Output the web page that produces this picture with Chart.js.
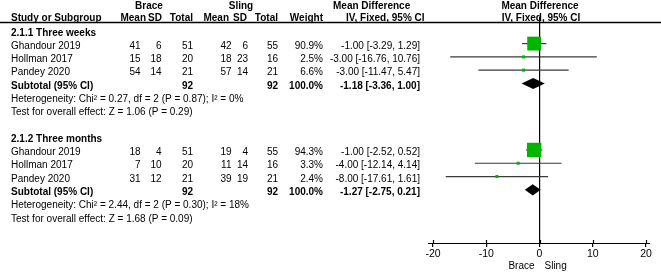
<!DOCTYPE html>
<html><head><meta charset="utf-8">
<script src="https://cdn.jsdelivr.net/npm/chart.js@4/dist/chart.umd.min.js"></script>
<style>html,body{margin:0;padding:0;background:#fff}#wrap{width:661px;height:273px;position:relative}</style>
</head><body><div id="wrap"><canvas id="c"></canvas></div>
<script>
const groups = ['2.1.1 Three weeks', '2.1.2 Three months'];
const studies = ['Ghandour 2019', 'Hollman 2017', 'Pandey 2020'];
const braceMean = [[41, 15, 54], [18, 7, 31]];
const braceSD = [[6, 18, 14], [4, 10, 12]];
const braceN = [[51, 20, 21], [51, 20, 21]];
const slingMean = [[42, 18, 57], [19, 11, 39]];
const slingSD = [[6, 23, 14], [4, 14, 19]];
const slingN = [[55, 16, 21], [55, 16, 21]];
const weights = [[90.9, 2.5, 6.6], [94.3, 3.3, 2.4]];
const md = [[-1.00, -3.00, -3.00], [-1.00, -4.00, -8.00]];
const ciLow = [[-3.29, -16.76, -11.47], [-2.52, -12.14, -17.61]];
const ciHigh = [[1.29, 10.76, 5.47], [0.52, 4.14, 1.61]];
const subBraceN = [92, 92];
const subSlingN = [92, 92];
const subMD = [-1.18, -1.27];
const subLow = [-3.36, -2.75];
const subHigh = [1.00, 0.21];
const heterogeneity = ['Heterogeneity: Chi² = 0.27, df = 2 (P = 0.87); I² = 0%', 'Heterogeneity: Chi² = 2.44, df = 2 (P = 0.30); I² = 18%'];
const overallEffect = ['Test for overall effect: Z = 1.06 (P = 0.29)', 'Test for overall effect: Z = 1.68 (P = 0.09)'];
const xTicks = [-20, -10, 0, 10, 20];
const favours = ['Brace', 'Sling'];

const FONT = '"Liberation Sans", Arial, sans-serif';
const GREEN = '#00b400';
const rowOf = (g, k) => g * 8 + k; // k: -1 heading, 0..2 studies, 3 subtotal, 4 het, 5 test

const datasets = [];
const squarePts = [];
groups.forEach((gname, g) => {
  studies.forEach((s, i) => {
    datasets.push({
      type: 'scatter', showLine: true, data: [{x: ciLow[g][i], y: rowOf(g, i)}, {x: ciHigh[g][i], y: rowOf(g, i)}],
      borderColor: '#3a3a3a', borderWidth: 1.2, pointRadius: 0, order: 2
    });
    squarePts.push({x: md[g][i], y: rowOf(g, i), w: weights[g][i]});
  });
});
datasets.push({
  type: 'scatter', data: squarePts, order: 1,
  pointStyle: 'rect', backgroundColor: GREEN, borderColor: GREEN, borderWidth: 0,
  pointRadius: ctx => { const w = ctx.raw ? ctx.raw.w : 1; const side = Math.max(3, 14.4 * w / 94.3); return side / Math.SQRT2; }
});

const tablePlugin = {
  id: 'table',
  afterDraw(chart) {
    const c = chart.ctx, xs = chart.scales.x, ys = chart.scales.y, ca = chart.chartArea;
    c.save();
    c.fillStyle = '#000';
    c.textBaseline = 'middle';
    const txt = (t, x, y, align, bold) => { c.font = (bold ? 'bold ' : '') + '10px ' + FONT; c.textAlign = align; c.fillText(t, x, y); };
    txt('Brace', 149, 6, 'center', true);
    txt('Sling', 241, 6, 'center', true);
    txt('Study or Subgroup', 11, 18.5, 'left', true);
    [['Mean', 146], ['SD', 162], ['Total', 193], ['Mean', 229], ['SD', 247], ['Total', 278], ['Weight', 323]].forEach(h => txt(h[0], h[1], 18.5, 'right', true));
    txt('Mean Difference', 333, 6, 'left', true);
    txt('IV, Fixed, 95% CI', 346, 18.5, 'left', true);
    txt('Mean Difference', 540, 6, 'center', true);
    txt('IV, Fixed, 95% CI', 541, 18.5, 'center', true);
    c.strokeStyle = '#000'; c.lineWidth = 1.3;
    c.beginPath(); c.moveTo(0, 22.5); c.lineTo(661, 22.5); c.stroke();
    const cols = [140.5, 161.5, 193, 231.5, 248, 278, 323];
    const ciStr = (m, l, h) => m.toFixed(2) + ' [' + l.toFixed(2) + ', ' + h.toFixed(2) + ']';
    const off = 2.5;
    groups.forEach((gname, g) => {
      txt(gname, 11, ys.getPixelForValue(rowOf(g, -1)) + off, 'left', true);
      studies.forEach((s, i) => {
        const y = ys.getPixelForValue(rowOf(g, i)) + off;
        txt(s, 11, y, 'left', false);
        const vals = [braceMean[g][i], braceSD[g][i], braceN[g][i], slingMean[g][i], slingSD[g][i], slingN[g][i], weights[g][i].toFixed(1) + '%'];
        vals.forEach((v, j) => txt(String(v), cols[j], y, 'right', false));
        txt(ciStr(md[g][i], ciLow[g][i], ciHigh[g][i]), 420, y, 'right', false);
      });
      const ys3 = ys.getPixelForValue(rowOf(g, 3));
      txt('Subtotal (95% CI)', 11, ys3 + off, 'left', true);
      txt(String(subBraceN[g]), cols[2], ys3 + off, 'right', true);
      txt(String(subSlingN[g]), cols[5], ys3 + off, 'right', true);
      txt('100.0%', cols[6], ys3 + off, 'right', true);
      txt(ciStr(subMD[g], subLow[g], subHigh[g]), 420, ys3 + off, 'right', true);
      txt(heterogeneity[g], 11, ys.getPixelForValue(rowOf(g, 4)) + off, 'left', false);
      txt(overallEffect[g], 11, ys.getPixelForValue(rowOf(g, 5)) + off, 'left', false);
      const xl = xs.getPixelForValue(subLow[g]), xm = xs.getPixelForValue(subMD[g]), xh = xs.getPixelForValue(subHigh[g]);
      const yt = ys.getPixelForValue(rowOf(g, 3) - 0.42), yb = ys.getPixelForValue(rowOf(g, 3) + 0.42);
      c.fillStyle = '#000';
      c.beginPath(); c.moveTo(xl, ys3); c.lineTo(xm, yt); c.lineTo(xh, ys3); c.lineTo(xm, yb); c.closePath(); c.fill();
    });
    c.strokeStyle = '#000'; c.lineWidth = 1.2;
    const yb = ca.bottom + 0.5;
    c.beginPath(); c.moveTo(ca.left - 5, yb); c.lineTo(ca.right + 4, yb); c.stroke();
    xTicks.forEach(t => { const x = Math.round(xs.getPixelForValue(t)) + 0.5; c.beginPath(); c.moveTo(x, yb - 3.5); c.lineTo(x, yb); c.stroke(); });
    const x0 = xs.getPixelForValue(0);
    c.fillStyle = '#000';
    txt(favours[0], x0 - 5, 266.5, 'right', false);
    txt(favours[1], x0 + 5, 266.5, 'left', false);
    c.restore();
  }
};

new Chart(document.getElementById('c'), {
  type: 'scatter',
  data: { datasets },
  options: {
    responsive: true, maintainAspectRatio: false, animation: false,
    layout: { padding: { left: 433, right: 15, top: 17, bottom: 0 } },
    plugins: { legend: { display: false }, tooltip: { enabled: false } },
    scales: {
      x: {
        type: 'linear', min: -20, max: 20,
        afterBuildTicks: s => { s.ticks = xTicks.map(v => ({ value: v })); },
        afterFit: s => { s.height = 30; },
        ticks: { color: '#000', font: { family: FONT, size: 10.5 }, padding: 1, maxRotation: 0 },
        border: { display: false },
        grid: {
          drawOnChartArea: true, drawTicks: true, tickLength: 4, tickColor: '#000', tickWidth: 1.2,
          color: ctx => (ctx.tick && ctx.tick.value === 0) ? '#000' : 'rgba(0,0,0,0)', lineWidth: 1.2
        }
      },
      y: { type: 'linear', min: -2, max: 15, reverse: true, display: false }
    }
  },
  plugins: [tablePlugin]
});
</script></body></html>
